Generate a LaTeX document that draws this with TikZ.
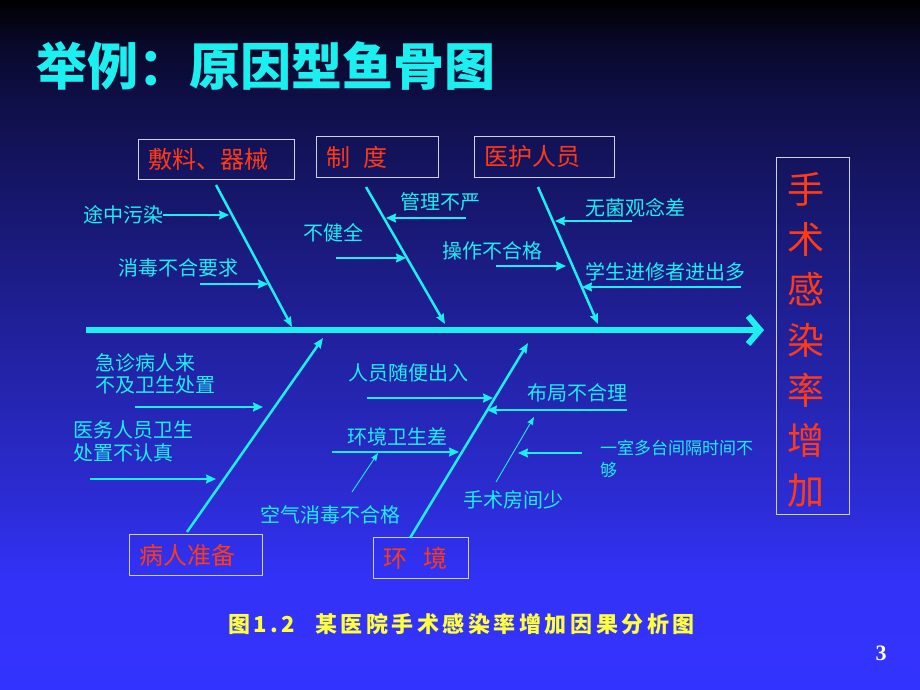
\documentclass[tikz,border=0pt]{standalone}
\usepackage{fontspec}
\usetikzlibrary{arrows.meta,positioning}
\newfontfamily\cjk{Noto Sans CJK SC}
\newfontfamily\capfont{Noto Sans CJK SC}[LetterSpace=16]
\newfontfamily\pagefont{Liberation Serif}
\definecolor{bonecyan}{HTML}{1CEFF0}
\definecolor{catred}{HTML}{FF3A14}
\definecolor{capyellow}{HTML}{FFFF3C}
\definecolor{framegray}{HTML}{D0D0E8}
\definecolor{bgtop}{HTML}{080828}
\definecolor{bgA}{HTML}{0F0F48}
\definecolor{bgB}{HTML}{1E1E90}
\definecolor{bgC}{HTML}{2C2CD4}
\definecolor{bgD}{HTML}{3232F8}
\definecolor{bgE}{HTML}{3333FF}
\pgfdeclareverticalshading{slidebg}{100bp}{color(0bp)=(bgE); color(25bp)=(bgE); color(33bp)=(bgD); color(38.8bp)=(bgC); color(53.3bp)=(bgB); color(67.75bp)=(bgA); color(72bp)=(bgtop); color(75bp)=(black); color(100bp)=(black)}

\begin{document}
\begin{tikzpicture}[
  x=1pt, y=-1pt,
  bone/.style={line width=2.5pt, bonecyan, -{Stealth[length=10pt,width=8pt,inset=1pt]}},
  sub arrow/.style={line width=1.6pt, bonecyan, -{Stealth[length=10pt,width=9pt,inset=1pt]}},
  thin arrow/.style={line width=0.9pt, bonecyan, -{Stealth[length=8pt,width=6pt,inset=1pt]}},
  cause/.style={anchor=west, inner sep=0pt, text=bonecyan, align=left,
    font=\cjk\fontsize{20}{22.5}\selectfont},
  cat box/.style={anchor=north west, draw=framegray, line width=0.8pt, text=catred,
    minimum height=41pt, inner xsep=10pt, inner ysep=0pt, align=left,
    font=\cjk\fontsize{24}{28}\selectfont}
]
  \shade[shading=slidebg] (0,0) rectangle (920,690);
  \useasboundingbox (0,0) rectangle (920,690);

  \node[anchor=west, inner sep=0pt, text=bonecyan,
    font=\cjk\bfseries\fontsize{51}{60}\selectfont] (title) at (36,66) {举例：原因型鱼骨图};

  % categories and effect
  \node[cat box, text width=136pt, minimum height=40pt] (dressing) at (138,139) {敷料、器械};
  \node[cat box, text width=102pt] (rules) at (316,136) {制\hspace{13pt}度};
  \node[cat box, text width=120pt] (staff) at (474,136) {医护人员};
  \node[cat box, text width=113pt] (patient) at (129,534) {病人准备};
  \node[cat box, text width=75pt] (env) at (373,537) {环\hspace{16pt}境};
  \node[draw=framegray, line width=0.8pt, anchor=north west, minimum width=73pt,
    minimum height=357pt, inner sep=0pt] (effect) at (776,157) {};
  \node[text=catred, align=center, inner sep=0pt,
    font=\cjk\fontsize{37}{50.2}\selectfont] (effect text) at (806,340) {手\\术\\感\\染\\率\\增\\加};

  % spine
  \coordinate (tail) at (86,330);
  \coordinate (head) at (764,330);
  \draw[line width=6pt, bonecyan, -{Straight Barb[length=12pt,width=28pt]}] (tail) -- (head);

  % bones
  \coordinate (b1) at (216,185);  \coordinate (s1) at (292,327);
  \coordinate (b2) at (366,187);  \coordinate (s2) at (445,324);
  \coordinate (b3) at (538,187);  \coordinate (s3) at (598,324);
  \coordinate (b4) at (187,532);  \coordinate (s4) at (323,338);
  \coordinate (b5) at (410,538);  \coordinate (s5) at (528,343);
  \foreach \i in {1,...,5} \draw[bone] (b\i) -- (s\i);

  % causes
  \node[cause] (stain) at (83,215) {途中污染};
  \node[cause] (disinfect) at (118,268) {消毒不合要求};
  \node[cause] (incomplete) at (303,233) {不健全};
  \node[cause] (lax) at (400,202) {管理不严};
  \node[cause] (operate) at (442,251) {操作不合格};
  \node[cause] (aseptic) at (585,208) {无菌观念差};
  \node[cause] (students) at (585,272) {学生进修者进出多};
  \node[cause] (emergency) at (95,374) {急诊病人来\\不及卫生处置};
  \node[cause] (hygiene) at (73,441.5) {医务人员卫生\\处置不认真};
  \node[cause] (visitors) at (348,373) {人员随便出入};
  \node[cause] (layout) at (527,393) {布局不合理};
  \node[cause] (sanitation) at (347,437) {环境卫生差};
  \node[cause] (air) at (260,515) {空气消毒不合格};
  \node[cause] (rooms) at (463,500) {手术房间少};
  \node[cause, font=\cjk\fontsize{17}{22}\selectfont] (interval) at (600,459) {一室多台间隔时间不\\够};

  \coordinate (a1) at (163,215);  \coordinate (e1) at (229,215);
  \coordinate (a2) at (200,284);  \coordinate (e2) at (268,284);
  \coordinate (a3) at (336,258);  \coordinate (e3) at (406,258);
  \coordinate (a4) at (466,218);  \coordinate (e4) at (386,218);
  \coordinate (a5) at (496,266);  \coordinate (e5) at (566,266);
  \coordinate (a6) at (632,221);  \coordinate (e6) at (555,221);
  \coordinate (a7) at (741,287);  \coordinate (e7) at (582,287);
  \coordinate (a8) at (135,407);  \coordinate (e8) at (263,407);
  \coordinate (a9) at (90,479);   \coordinate (e9) at (216,479);
  \coordinate (a10) at (367,398); \coordinate (e10) at (493,398);
  \coordinate (a11) at (627,410); \coordinate (e11) at (487,410);
  \coordinate (a12) at (332,452); \coordinate (e12) at (459,452);
  \coordinate (a13) at (582,453); \coordinate (e13) at (518,453);
  \foreach \i in {1,...,13} \draw[sub arrow] (a\i) -- (e\i);

  \coordinate (t1) at (352,492);  \coordinate (u1) at (378,453);
  \coordinate (t2) at (496,482);  \coordinate (u2) at (534,417);
  \foreach \i in {1,2} \draw[thin arrow] (t\i) -- (u\i);

  \node[anchor=west, inner sep=0pt, text=capyellow,
    font=\capfont\bfseries\fontsize{22}{24}\selectfont] (caption) at (228,624)
    {图1.2\hspace{20pt}某医院手术感染率增加因果分析图};
  \node[text=white, inner sep=0pt, font=\pagefont\bfseries\fontsize{22}{24}\selectfont] (pageno) at (881,653) {3};
\end{tikzpicture}
\end{document}
